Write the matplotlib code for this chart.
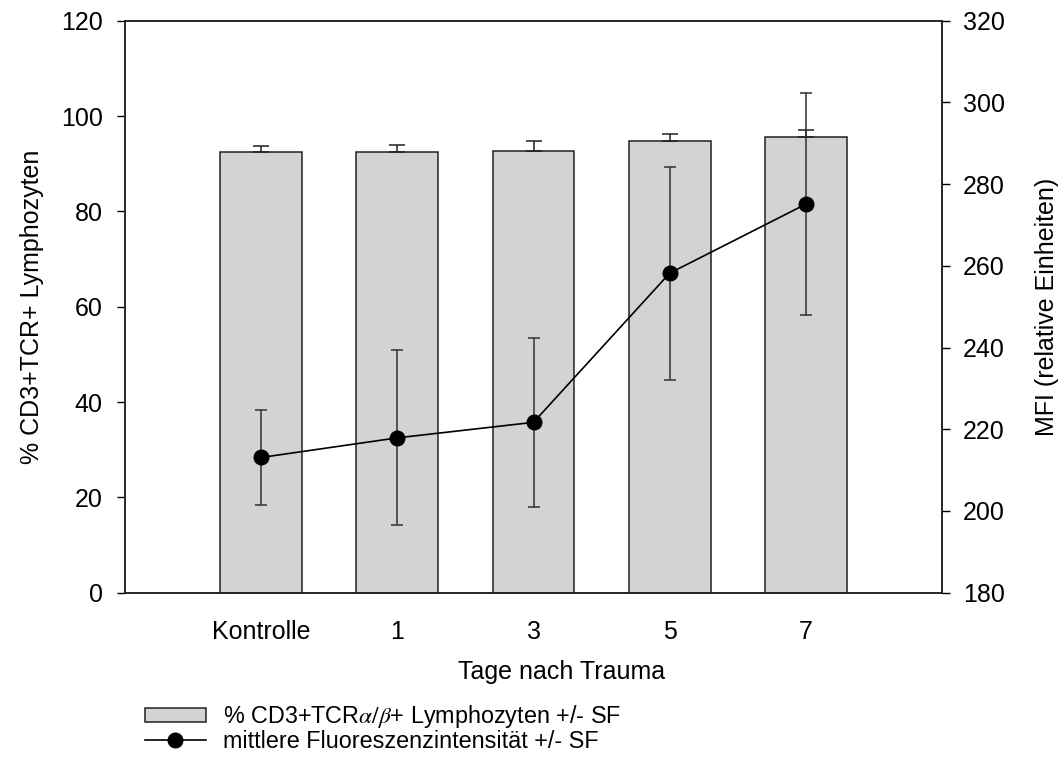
import matplotlib
matplotlib.use("Agg")
import matplotlib.pyplot as plt
from matplotlib.patches import Patch
from matplotlib.lines import Line2D

plt.rcParams['font.family'] = ['Liberation Sans', 'DejaVu Sans']
plt.rcParams['mathtext.fontset'] = 'stix'

categories = ["Kontrolle", "1", "3", "5", "7"]
bar_values = [92.5, 92.5, 92.6, 94.8, 95.7]
bar_err = [1.3, 1.4, 2.1, 1.4, 1.4]
mfi_values = [213.1, 217.9, 221.7, 258.2, 275.1]
mfi_err = [11.7, 21.4, 20.7, 26.1, 27.1]
left_ticks = [0, 20, 40, 60, 80, 100, 120]
right_ticks = [180, 200, 220, 240, 260, 280, 300, 320]

fs = 18
lfs = 16.8
fig = plt.figure(figsize=(10.63, 7.83), dpi=100)
ax = fig.add_axes([125/1063, 1-592.7/783, (942-125)/1063, (592.7-20.7)/783])
x = list(range(1, len(categories) + 1))

ax.bar(x, bar_values, width=0.6, color='#d3d3d3', edgecolor='#202020', linewidth=1.1, zorder=2)
ax.errorbar(x, bar_values, yerr=[[0]*len(bar_err), bar_err], fmt='none', ecolor='#202020',
            elinewidth=1.1, capsize=6, capthick=1.1, zorder=3)
ax.set_xlim(0, 6)
ax.set_ylim(0, 120)
ax.set_yticks(left_ticks)
ax.set_xticks(x)
ax.set_xticklabels(categories)
ax.tick_params(axis='x', length=0, pad=20, labelsize=fs)
ax.tick_params(axis='y', direction='out', length=6, width=1, pad=10, labelsize=fs)
ax.set_xlabel("Tage nach Trauma", fontsize=fs)
ax.xaxis.set_label_coords(0.534, -0.118)
ax.set_ylabel("% CD3+TCR+ Lymphozyten", fontsize=fs, labelpad=12)

ax2 = ax.twinx()
ax2.errorbar(x, mfi_values, yerr=mfi_err, fmt='o-', color='black', ecolor='#303030',
             markersize=10.5, linewidth=1.2, elinewidth=1.1, capsize=4.3, capthick=1.1, zorder=4)
ax2.set_ylim(180, 320)
ax2.set_yticks(right_ticks)
ax2.tick_params(axis='y', direction='out', length=6, width=1, pad=9, labelsize=fs)
ax2.set_ylabel("MFI (relative Einheiten)", fontsize=fs, labelpad=22)

for a in (ax, ax2):
    for s in a.spines.values():
        s.set_linewidth(1.1)
        s.set_color('#202020')

handles = [
    Patch(facecolor='#d3d3d3', edgecolor='#202020', linewidth=1.1),
    Line2D([0], [0], color='black', marker='o', markersize=10.5, linewidth=1.2),
]
labels = [r"% CD3+TCR$\alpha/\beta$+ Lymphozyten +/- SF",
          "mittlere Fluoreszenzintensität +/- SF"]
fig.legend(handles, labels, loc='upper left', bbox_to_anchor=(145/1063, 1-703/783),
           frameon=False, fontsize=lfs, handlelength=2.6, handleheight=0.55,
           handletextpad=0.75, labelspacing=0.0, borderpad=0, borderaxespad=0)

fig.savefig("out.png", dpi=100)
